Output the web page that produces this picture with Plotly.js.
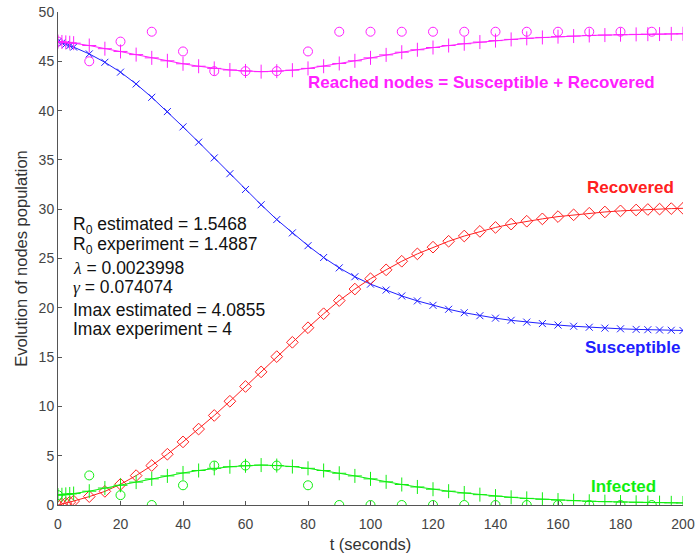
<!DOCTYPE html>
<html>
<head>
<meta charset="utf-8">
<script src="https://cdn.plot.ly/plotly-3.0.1.min.js"></script>
<style>html,body{margin:0;padding:0;background:#fff;}#chart{width:697px;height:560px;}</style>
</head>
<body>
<div id="chart"></div>
<script>
// Model time points (seconds)
const tModel = [0,1.25,2.5,3.75,5,10,15,20,25,30,35,40,45,50,55,60,65,70,75,80,85,90,95,100,
  105,110,115,120,125,130,135,140,145,150,155,160,165,170,175,180,185,188.75,192.5,196.25,200];
// Susceptible (model)
const susceptible = [47.00,46.87,46.73,46.59,46.44,45.75,44.90,43.90,42.70,41.35,39.90,38.35,36.80,35.20,33.60,32.00,30.45,28.95,27.60,26.30,25.10,24.05,23.15,22.40,
  21.80,21.20,20.70,20.25,19.85,19.50,19.20,18.95,18.73,18.55,18.40,18.25,18.13,18.03,17.94,17.87,17.81,17.78,17.75,17.72,17.70];
// Infected (model)
const infected = [1.00,1.04,1.08,1.12,1.16,1.40,1.72,2.00,2.32,2.65,2.95,3.25,3.50,3.72,3.88,3.98,4.05,4.00,3.90,3.72,3.50,3.22,2.95,2.65,
  2.35,2.08,1.83,1.60,1.40,1.22,1.05,0.90,0.78,0.67,0.58,0.50,0.44,0.38,0.34,0.30,0.27,0.25,0.24,0.22,0.21];
// Recovered (model)
const recovered = [0.00,0.09,0.19,0.29,0.40,0.85,1.38,2.10,2.98,4.00,5.15,6.40,7.70,9.08,10.52,12.02,13.50,15.05,16.50,17.98,19.40,20.73,21.90,22.95,
  23.85,24.72,25.47,26.15,26.75,27.28,27.75,28.15,28.49,28.78,29.02,29.25,29.43,29.59,29.72,29.83,29.92,29.97,30.01,30.06,30.09];
// Reached nodes = Susceptible + Recovered (model)
const reached = [47.00,46.96,46.92,46.88,46.84,46.60,46.28,46.00,45.68,45.35,45.05,44.75,44.50,44.28,44.12,44.02,43.95,44.00,44.10,44.28,44.50,44.78,45.05,45.35,
  45.65,45.92,46.17,46.40,46.60,46.78,46.95,47.10,47.22,47.33,47.42,47.50,47.56,47.62,47.66,47.70,47.73,47.75,47.76,47.78,47.79];

// Experiment
const tExp = [0,10,20,30,40,50,60,70,80,90,100,110,120,130,140,150,160,170,180,190];
const infectedExp = [1,3,1,0,2,4,4,4,2,0,0,0,0,0,0,0,0,0,0,0];
const reachedExp = [47,45,47,48,46,44,44,44,46,48,48,48,48,48,48,48,48,48,48,48];

const BLUE = '#2020ff', RED = '#ff2020', GREEN = '#10ee10', MAG = '#ff20ff';
const FONT = 'Liberation Sans, Arial, sans-serif';
const SERIF = 'Liberation Serif, DejaVu Serif, serif';

function modelTrace(y, color, symbol, size) {
  return {x: tModel, y: y, type: 'scatter', mode: 'lines+markers',
    line: {color: color, width: 1},
    marker: {symbol: symbol, size: size, color: color, line: {color: color, width: 1}},
    hoverinfo: 'skip'};
}
const traces = [
  modelTrace(susceptible, BLUE, 'x-thin', 7),
  modelTrace(recovered, RED, 'diamond-open', 9),
  modelTrace(infected, GREEN, 'cross-thin', 10),
  modelTrace(reached, MAG, 'cross-thin', 10),
  {x: tExp, y: infectedExp, type: 'scatter', mode: 'markers',
    marker: {symbol: 'circle-open', size: 9, color: GREEN, line: {color: GREEN, width: 1}}},
  {x: tExp, y: reachedExp, type: 'scatter', mode: 'markers',
    marker: {symbol: 'circle-open', size: 9, color: MAG, line: {color: MAG, width: 1}}}
];

function label(x, y, text, color, size, bold) {
  return {x: x, y: y, xref: 'x', yref: 'y', text: bold ? '<b>' + text + '</b>' : text,
    showarrow: false, xanchor: 'left', yanchor: 'middle',
    font: {family: FONT, size: size, color: color}};
}
const greek = s => '<span style="font-family:' + SERIF + '"><i>' + s + '</i></span>';
const annotations = [
  label(79.5, 42.9, 'Reached nodes = Susceptible + Recovered', MAG, 17, true),
  label(168.5, 32.2, 'Recovered', RED, 17, true),
  label(168, 16.0, 'Susceptible', BLUE, 17, true),
  label(170, 1.85, 'Infected', GREEN, 17, true),
  label(4.0, 28.35, 'R<sub>0</sub> estimated = 1.5468', '#111', 17.5, false),
  label(4.0, 26.3, 'R<sub>0</sub> experiment = 1.4887', '#111', 17.5, false),
  label(4.0, 24.05, greek('λ') + ' = 0.0023998', '#111', 17.5, false),
  label(4.0, 22.15, greek('γ') + ' = 0.074074', '#111', 17.5, false),
  label(4.0, 19.75, 'Imax estimated = 4.0855', '#111', 17.5, false),
  label(4.0, 17.9, 'Imax experiment = 4', '#111', 17.5, false)
];

const layout = {
  width: 697, height: 560,
  margin: {l: 58, r: 14, t: 12, b: 55},
  paper_bgcolor: '#fff', plot_bgcolor: '#fff',
  showlegend: false,
  font: {family: FONT, size: 14, color: '#444'},
  xaxis: {range: [0, 200], dtick: 20, tick0: 0, showgrid: false, zeroline: false,
    showline: true, linecolor: '#555', linewidth: 1, ticks: 'inside', ticklen: 4, tickcolor: '#555',
    ticklabelstandoff: 6,
    tickfont: {family: FONT, size: 14, color: '#444'},
    title: {text: 't (seconds)', font: {family: FONT, size: 16.5, color: '#333'}, standoff: 7}},
  yaxis: {range: [0, 50], dtick: 5, tick0: 0, showgrid: false, zeroline: false,
    showline: true, linecolor: '#555', linewidth: 1, ticks: 'inside', ticklen: 4, tickcolor: '#555',
    tickfont: {family: FONT, size: 14, color: '#444'},
    title: {text: 'Evolution of nodes population', font: {family: FONT, size: 16.5, color: '#333'}, standoff: 6}},
  annotations: annotations
};

Plotly.newPlot('chart', traces, layout, {displayModeBar: false, staticPlot: true});
</script>
</body>
</html>
